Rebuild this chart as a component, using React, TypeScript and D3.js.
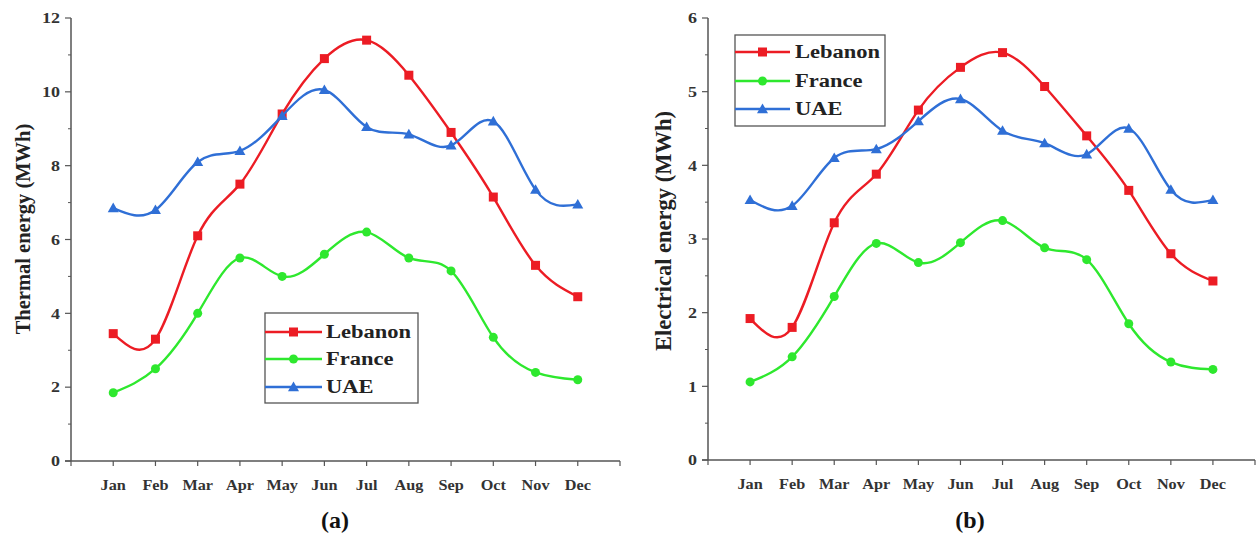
import React from "react";
import * as d3 from "d3";

const months = ["Jan", "Feb", "Mar", "Apr", "May", "Jun", "Jul", "Aug", "Sep", "Oct", "Nov", "Dec"];
const seriesNames = ["Lebanon", "France", "UAE"];

const thermalLebanon = [3.45, 3.3, 6.1, 7.5, 9.4, 10.9, 11.4, 10.45, 8.9, 7.15, 5.3, 4.45];
const thermalFrance = [1.85, 2.5, 4.0, 5.5, 5.0, 5.6, 6.2, 5.5, 5.15, 3.35, 2.4, 2.2];
const thermalUAE = [6.85, 6.8, 8.1, 8.4, 9.35, 10.05, 9.05, 8.85, 8.55, 9.2, 7.35, 6.95];

const elecLebanon = [1.92, 1.8, 3.22, 3.88, 4.75, 5.33, 5.53, 5.07, 4.4, 3.66, 2.8, 2.43];
const elecFrance = [1.06, 1.4, 2.22, 2.94, 2.68, 2.95, 3.25, 2.88, 2.72, 1.85, 1.33, 1.23];
const elecUAE = [3.53, 3.45, 4.1, 4.22, 4.6, 4.9, 4.47, 4.3, 4.15, 4.5, 3.67, 3.53];

const thermalTicks = [0, 2, 4, 6, 8, 10, 12];
const elecTicks = [0, 1, 2, 3, 4, 5, 6];

const colors = ["#ec1c24", "#2ee82e", "#2f6fd6"];
const FONT = "'Liberation Serif', 'Times New Roman', serif";
const AXIS = "#555";

function Marker({ kind, x, y, color }: { kind: number; x: number; y: number; color: string }) {
  if (kind === 0) return <rect x={x - 4.5} y={y - 4.5} width={9} height={9} fill={color} />;
  if (kind === 1) return <circle cx={x} cy={y} r={4.5} fill={color} />;
  const s = 5.5;
  return <path d={`M${x},${y - s} L${x + s},${y + s * 0.75} L${x - s},${y + s * 0.75} Z`} fill={color} />;
}

function SText({
  x,
  y,
  sx,
  size,
  anchor,
  children,
  fill,
}: {
  x: number;
  y: number;
  sx: number;
  size: number;
  anchor: "start" | "middle" | "end";
  children: React.ReactNode;
  fill?: string;
}) {
  return (
    <text
      transform={`translate(${x},${y}) scale(${sx},1)`}
      dy="0.35em"
      textAnchor={anchor}
      fontFamily={FONT}
      fontWeight="bold"
      fontSize={size}
      fill={fill || "#333"}
    >
      {children}
    </text>
  );
}

type PanelProps = {
  x0: number;
  x1: number;
  y0: number;
  y1: number;
  yMax: number;
  ticks: number[];
  data: number[][];
  title: string;
  titleX: number;
  titleY: number;
  titleSize: number;
  label: string;
  labelX: number;
  legend: { left: number; top: number; right: number; bottom: number; rows: number[]; lineEnd: number; textX: number };
};

function Panel(p: PanelProps) {
  const x = d3.scaleLinear().domain([0, 13]).range([p.x0, p.x1]);
  const y = d3.scaleLinear().domain([0, p.yMax]).range([p.y0, p.y1]);
  const line = d3
    .line<number>()
    .x((_, i) => x(i + 1))
    .y((d) => y(d))
    .curve(d3.curveNatural);
  const minorStep = p.ticks[1] - p.ticks[0];
  const minors = p.ticks.slice(0, -1).map((t) => t + minorStep / 2);
  const lg = p.legend;
  const markX = (lg.left + lg.lineEnd) / 2;
  return (
    <g>
      <line x1={p.x0} x2={p.x0} y1={p.y0} y2={p.y1} stroke={AXIS} strokeWidth={1.5} />
      <line x1={p.x0 - 6} x2={p.x1} y1={p.y0} y2={p.y0} stroke={AXIS} strokeWidth={1.5} />
      {p.ticks.map((t) => (
        <g key={"t" + t}>
          <line x1={p.x0 - 6} x2={p.x0} y1={y(t)} y2={y(t)} stroke={AXIS} strokeWidth={1.2} />
          <SText x={p.x0 - 11} y={y(t)} sx={1.2} size={15} anchor="end">
            {t}
          </SText>
        </g>
      ))}
      {minors.map((t) => (
        <line key={"m" + t} x1={p.x0 - 3} x2={p.x0} y1={y(t)} y2={y(t)} stroke={AXIS} strokeWidth={1} />
      ))}
      {d3.range(0, 14).map((i) => (
        <line key={"xt" + i} x1={x(i)} x2={x(i)} y1={p.y0} y2={p.y0 + 5} stroke={AXIS} strokeWidth={1.2} />
      ))}
      {months.map((m, i) => (
        <SText key={m} x={x(i + 1)} y={p.y0 + 24} sx={1.12} size={14.5} anchor="middle">
          {m}
        </SText>
      ))}
      <text
        transform={`translate(${p.titleX},${p.titleY}) rotate(-90)`}
        textAnchor="middle"
        dy="0.35em"
        fontFamily={FONT}
        fontWeight="bold"
        fontSize={p.titleSize}
        fill="#222"
      >
        {p.title}
      </text>
      <text x={p.labelX} y={528} textAnchor="middle" fontFamily={FONT} fontWeight="bold" fontSize={24} fill="#111">
        {p.label}
      </text>
      {p.data.map((s, k) => (
        <g key={"s" + k}>
          <path d={line(s) || ""} fill="none" stroke={colors[k]} strokeWidth={2.4} />
          {s.map((v, i) => (
            <Marker key={i} kind={k} x={x(i + 1)} y={y(v)} color={colors[k]} />
          ))}
        </g>
      ))}
      <rect
        x={lg.left}
        y={lg.top}
        width={lg.right - lg.left}
        height={lg.bottom - lg.top}
        fill="#fff"
        stroke="#555"
        strokeWidth={1.3}
      />
      {seriesNames.map((n, k) => (
        <g key={n}>
          <line x1={lg.left} x2={lg.lineEnd} y1={lg.rows[k]} y2={lg.rows[k]} stroke={colors[k]} strokeWidth={2.4} />
          <Marker kind={k} x={markX} y={lg.rows[k]} color={colors[k]} />
          <SText x={lg.textX} y={lg.rows[k]} sx={1.25} size={18} anchor="start" fill="#222">
            {n}
          </SText>
        </g>
      ))}
    </g>
  );
}

export default function App() {
  return (
    <svg width={1259} height={537} style={{ position: "absolute", left: 0, top: 0, background: "#fff" }}>
      <rect width={1259} height={537} fill="#fff" />
      <Panel
        x0={71}
        x1={620}
        y0={461}
        y1={18}
        yMax={12}
        ticks={thermalTicks}
        data={[thermalLebanon, thermalFrance, thermalUAE]}
        title="Thermal energy (MWh)"
        titleX={23}
        titleY={229}
        titleSize={20.5}
        label="(a)"
        labelX={335}
        legend={{ left: 265, top: 313, right: 418, bottom: 403, rows: [332, 359, 387], lineEnd: 322, textX: 326 }}
      />
      <Panel
        x0={708}
        x1={1255}
        y0={460}
        y1={18}
        yMax={6}
        ticks={elecTicks}
        data={[elecLebanon, elecFrance, elecUAE]}
        title="Electrical energy (MWh)"
        titleX={663}
        titleY={231}
        titleSize={22.5}
        label="(b)"
        labelX={970}
        legend={{ left: 735, top: 35, right: 885, bottom: 126, rows: [52, 81, 109], lineEnd: 790, textX: 795 }}
      />
    </svg>
  );
}
